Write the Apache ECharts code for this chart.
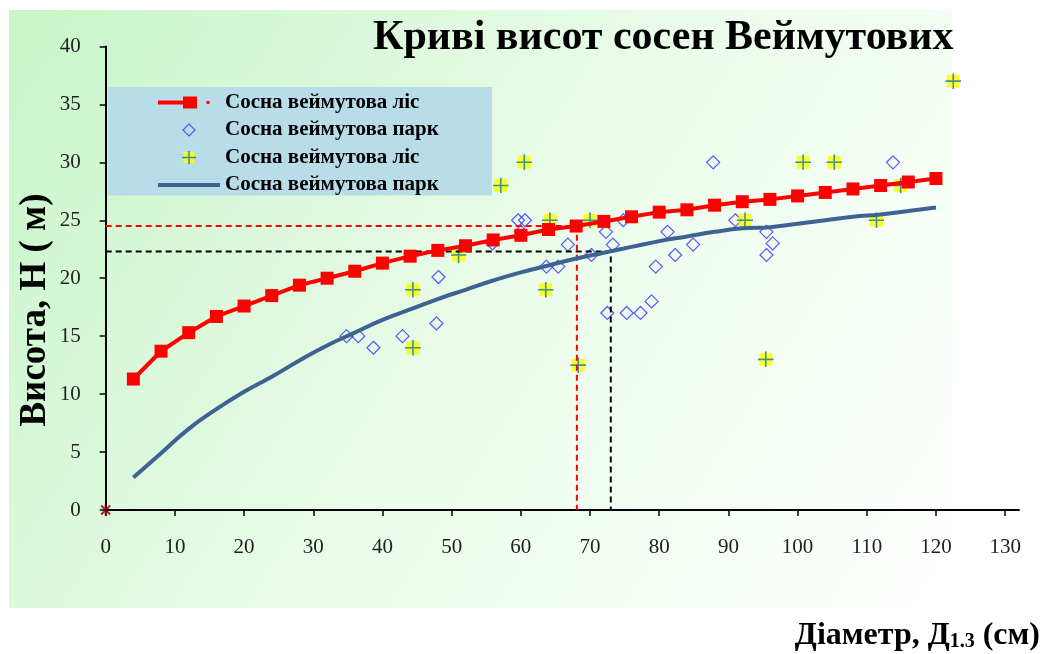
<!DOCTYPE html>
<html><head><meta charset="utf-8">
<script src="https://cdn.jsdelivr.net/npm/echarts@6/dist/echarts.min.js"></script>
<style>html,body{margin:0;padding:0;background:#fff}#c{width:1043px;height:654px}</style>
</head><body><div id="c"></div>
<script>
const titleText = 'Криві висот сосен Веймутових';
const yAxisTitle = 'Висота, H ( м)';
const xAxisTitle = 'Діаметр, Д{sub|1.3} (см)';
const legendLabels = ['Сосна веймутова ліс', 'Сосна веймутова парк', 'Сосна веймутова ліс', 'Сосна веймутова парк'];
const xTicks = [0, 10, 20, 30, 40, 50, 60, 70, 80, 90, 100, 110, 120, 130];
const yTicks = [0, 5, 10, 15, 20, 25, 30, 35, 40];

// Fitted curve, forest (red squares)
const forestCurveX = [4, 8, 12, 16, 20, 24, 28, 32, 36, 40, 44, 48, 52, 56, 60, 64, 68, 72, 76, 80, 84, 88, 92, 96, 100, 104, 108, 112, 116, 120];
const forestCurveH = [11.3, 13.7, 15.3, 16.7, 17.6, 18.5, 19.4, 20.0, 20.6, 21.3, 21.9, 22.4, 22.8, 23.3, 23.7, 24.2, 24.5, 24.9, 25.3, 25.7, 25.9, 26.3, 26.6, 26.8, 27.1, 27.4, 27.7, 28.0, 28.3, 28.6];

// Fitted curve, park (blue line)
const parkCurveX = [4, 8, 12, 16, 20, 24, 28, 32, 36, 40, 44, 48, 52, 56, 60, 64, 68, 72, 76, 80, 84, 88, 92, 96, 100, 104, 108, 112, 116, 120];
const parkCurveH = [2.8, 4.9, 7.0, 8.7, 10.2, 11.5, 12.9, 14.2, 15.3, 16.4, 17.3, 18.2, 19.0, 19.8, 20.5, 21.1, 21.7, 22.2, 22.7, 23.2, 23.6, 24.0, 24.3, 24.4, 24.7, 25.0, 25.3, 25.5, 25.8, 26.1];

// Measured trees, park (blue diamonds): [diameter, height]
const parkPoints = [
  [34.8, 15.0], [36.5, 15.0], [38.7, 14.0], [42.9, 15.0], [47.8, 16.1], [48.1, 20.1],
  [55.9, 23.0], [59.6, 25.0], [60.6, 25.0], [60.0, 24.0], [63.7, 21.0], [65.4, 21.0],
  [66.8, 22.9], [70.2, 22.0], [72.3, 24.0], [73.3, 22.9], [72.5, 17.0], [75.3, 17.0],
  [74.8, 25.0], [77.3, 17.0], [78.9, 18.0], [79.5, 21.0], [81.2, 24.0], [82.3, 22.0],
  [84.9, 22.9], [87.8, 30.0], [91.0, 25.0], [95.5, 24.0], [96.4, 23.0], [95.5, 22.0],
  [113.8, 30.0]
];

// Measured trees, forest (yellow plus)
const forestPoints = [
  [44.4, 19.0], [44.4, 14.0], [51.0, 22.0], [57.1, 28.0], [60.5, 30.0], [64.2, 25.0],
  [63.6, 19.0], [68.3, 12.5], [70.0, 25.0], [92.4, 25.0], [100.8, 30.0], [105.3, 30.0],
  [111.4, 25.0], [114.9, 28.0], [122.5, 37.0], [95.4, 13.0]
];

// Guide lines (dashed)
const forestGuide = [[0, 24.5], [68.1, 24.5], [68.1, 0]];
const parkGuide = [[0, 22.3], [73.0, 22.3], [73.0, 0]];
const originPoint = [[0, 0]];

const FONT = '"Liberation Serif", "Times New Roman", serif';
function svgUri(s) { return 'image://data:image/svg+xml;charset=utf-8,' + encodeURIComponent(s); }
const plusIcon = svgUri("<svg xmlns='http://www.w3.org/2000/svg' width='16' height='16'><rect x='1.5' y='1.5' width='13' height='13' fill='#ffff00'/><path d='M8 0V16M0 8H16' stroke='#157878' stroke-width='1.6'/></svg>");
const starIcon = svgUri("<svg xmlns='http://www.w3.org/2000/svg' width='12' height='12'><path d='M1.5 1.5L10.5 10.5M10.5 1.5L1.5 10.5M6 0V12' stroke='#8b0000' stroke-width='2'/></svg>");
const redLegendIcon = svgUri("<svg xmlns='http://www.w3.org/2000/svg' width='62' height='14'><path d='M0 7H32' stroke='#ff0000' stroke-width='4'/><rect x='25' y='1' width='14' height='12' fill='#ff0000'/><rect x='48.5' y='5.5' width='3' height='3' fill='#ff0000'/></svg>");
const blueLegendIcon = svgUri("<svg xmlns='http://www.w3.org/2000/svg' width='62' height='14'><path d='M0 7H62' stroke='#3e6292' stroke-width='4'/></svg>");
const diamondLegendIcon = svgUri("<svg xmlns='http://www.w3.org/2000/svg' width='14' height='14'><path d='M7 1L13 7L7 13L1 7Z' fill='none' stroke='#3535ff' stroke-width='1.2'/></svg>");

const seriesKeys = ['forestLine', 'parkPts', 'forestPts', 'parkLine'];
const labelOf = {};
seriesKeys.forEach((k, i) => labelOf[k] = legendLabels[i]);

const chart = echarts.init(document.getElementById('c'), null, { renderer: 'canvas' });
chart.setOption({
  animation: false,
  title: {
    text: titleText, left: 373, top: 17, padding: 0,
    textStyle: { fontFamily: FONT, fontWeight: 'bold', fontSize: 42, color: '#000' }
  },
  graphic: { elements: [
    { type: 'rect', silent: true, z: -10, shape: { x: 9, y: 10, width: 943, height: 598 },
      style: { fill: new echarts.graphic.LinearGradient(0, 0, 1, 1, [
        { offset: 0, color: '#c8f5c8' }, { offset: 0.55, color: '#ecfcec' }, { offset: 1, color: '#ffffff' }]) } },
    { type: 'text', x: 35, y: 310, rotation: Math.PI / 2, z: 10,
      style: { text: yAxisTitle, fontFamily: FONT, fontWeight: 'bold', fontSize: 37, fill: '#000', align: 'center', verticalAlign: 'middle' } },
    { type: 'text', x: 1040, y: 636, z: 10,
      style: { text: xAxisTitle, fontFamily: FONT, fontWeight: 'bold', fontSize: 32, fill: '#000', align: 'right', verticalAlign: 'middle',
        rich: { sub: { fontFamily: FONT, fontWeight: 'bold', fontSize: 20, verticalAlign: 'bottom' } } } }
  ] },
  legend: {
    orient: 'vertical', left: 108, top: 87, padding: [5, 53, 0, 50],
    backgroundColor: '#b8dce8', itemWidth: 62, itemHeight: 14, itemGap: 6.5,
    symbolKeepAspect: true,
    textStyle: { fontFamily: FONT, fontWeight: 'bold', fontSize: 21, color: '#000' },
    formatter: n => labelOf[n] || n,
    data: [
      { name: 'forestLine', icon: redLegendIcon },
      { name: 'parkPts', icon: diamondLegendIcon },
      { name: 'forestPts', icon: plusIcon },
      { name: 'parkLine', icon: blueLegendIcon }
    ],
    selectedMode: false
  },
  grid: { left: 105.7, right: 24, top: 46.4, bottom: 144, containLabel: false },
  xAxis: {
    type: 'value', min: 0, max: 132,
    axisLine: { lineStyle: { color: '#000', width: 2 } },
    axisTick: { length: 6, lineStyle: { color: '#000', width: 1.5 }, customValues: xTicks },
    axisLabel: { customValues: xTicks, margin: 27, fontFamily: FONT, fontSize: 21, color: '#222' },
    splitLine: { show: false }
  },
  yAxis: {
    type: 'value', min: 0, max: 40, interval: 5,
    axisLine: { show: true, lineStyle: { color: '#000', width: 2 } },
    axisTick: { show: true, length: 6, lineStyle: { color: '#000', width: 1.5 }, customValues: yTicks },
    axisLabel: { customValues: yTicks, margin: 25, fontFamily: FONT, fontSize: 21, color: '#222' },
    splitLine: { show: false }
  },
  series: [
    { name: 'forestGuide', type: 'line', data: forestGuide, symbol: 'none', silent: true,
      lineStyle: { color: '#ff0000', width: 2, type: [6, 4] } },
    { name: 'parkGuide', type: 'line', data: parkGuide, symbol: 'none', silent: true,
      lineStyle: { color: '#000000', width: 2, type: [6, 4] } },
    { name: 'parkPts', type: 'scatter', data: parkPoints, symbol: 'diamond', symbolSize: 13,
      itemStyle: { color: 'rgba(0,0,0,0)', borderColor: '#3030ff', borderWidth: 1.2 } },
    { name: 'parkLine', type: 'line', smooth: true, symbol: 'none',
      data: parkCurveX.map((x, i) => [x, parkCurveH[i]]),
      lineStyle: { color: '#3e6292', width: 4 }, itemStyle: { color: '#3e6292' } },
    { name: 'forestLine', type: 'line', symbol: 'rect', symbolSize: 13,
      data: forestCurveX.map((x, i) => [x, forestCurveH[i]]),
      lineStyle: { color: '#ff0000', width: 4 }, itemStyle: { color: '#ff0000' } },
    { name: 'forestPts', type: 'scatter', data: forestPoints, symbol: plusIcon, symbolSize: 16 },
    { name: 'origin', type: 'scatter', data: originPoint, symbol: starIcon, symbolSize: 12, z: 5 }
  ]
});
</script>
</body></html>
